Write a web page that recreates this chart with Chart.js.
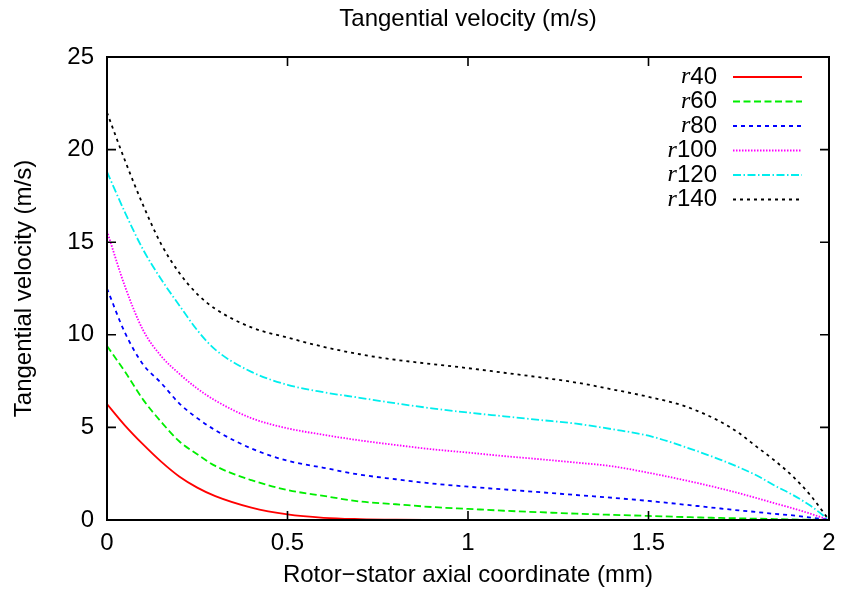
<!DOCTYPE html>
<html>
<head>
<meta charset="utf-8">
<title>Tangential velocity</title>
<script src="https://cdn.jsdelivr.net/npm/chart.js@4.4.1/dist/chart.umd.min.js"></script>
<style>
  html, body { margin: 0; padding: 0; background: #fff; }
  #wrap { width: 841px; height: 598px; }
</style>
</head>
<body>
<div id="wrap"><canvas id="c" width="841" height="598"></canvas></div>
<script>
// axial coordinate (mm)
const xs = [0, 0.05, 0.1, 0.15, 0.2, 0.25, 0.3, 0.4, 0.5, 0.6, 0.7, 0.8, 0.9, 1.0,
            1.1, 1.2, 1.3, 1.4, 1.5, 1.6, 1.7, 1.75, 1.8, 1.85, 1.9, 1.95, 2.0];

// tangential velocity (m/s) per radius
const r40  = [6.26, 5.1, 4.08, 3.15, 2.35, 1.75, 1.29, 0.67, 0.3, 0.12, 0.05, 0.02, 0.01, 0.005,
              0, 0, 0, 0, 0, 0, 0, 0, 0, 0, 0, 0, 0];
const r60  = [9.4, 8.0, 6.5, 5.3, 4.25, 3.55, 2.92, 2.15, 1.62, 1.3, 1.0, 0.85, 0.7, 0.6,
              0.5, 0.42, 0.34, 0.28, 0.22, 0.16, 0.11, 0.09, 0.07, 0.05, 0.03, 0.015, 0];
const r80  = [12.5, 10.1, 8.4, 7.4, 6.3, 5.5, 4.85, 3.86, 3.2, 2.82, 2.45, 2.2, 1.97, 1.8,
              1.65, 1.5, 1.35, 1.2, 1.03, 0.83, 0.62, 0.52, 0.43, 0.33, 0.25, 0.13, 0];
const r100 = [15.6, 12.6, 10.25, 8.85, 7.9, 7.1, 6.45, 5.5, 4.95, 4.6, 4.3, 4.05, 3.82, 3.64,
              3.45, 3.28, 3.1, 2.9, 2.55, 2.15, 1.7, 1.45, 1.18, 0.9, 0.63, 0.33, 0];
const r120 = [18.8, 16.6, 14.6, 13.0, 11.6, 10.25, 9.2, 8.0, 7.3, 6.9, 6.6, 6.3, 6.03, 5.8,
              5.6, 5.4, 5.2, 4.9, 4.55, 3.95, 3.25, 2.85, 2.4, 1.85, 1.35, 0.75, 0];
const r140 = [22.0, 19.4, 17.0, 14.9, 13.35, 12.2, 11.4, 10.4, 9.85, 9.35, 8.95, 8.65, 8.42, 8.2,
              7.95, 7.7, 7.42, 7.05, 6.65, 6.15, 5.3, 4.7, 3.95, 3.2, 2.35, 1.3, 0];

const seriesNames = ['40', '60', '80', '100', '120', '140'];
const seriesValues = [r40, r60, r80, r100, r120, r140];
const seriesColors = ['#ff0000', '#00ee00', '#0000ff', '#ff00ff', '#00eeee', '#000000'];
const seriesDashes = [[], [7, 3.5], [4, 4], [1.5, 1.5], [8, 2.5, 1.5, 2.5], [3, 4]];

const xTicks = [0, 0.5, 1, 1.5, 2];
const yTicks = [0, 5, 10, 15, 20, 25];

const SANS = '"Liberation Sans", Arial, Helvetica, sans-serif';
const FS = 24;

const datasets = seriesNames.map((n, i) => ({
  label: 'r' + n,
  data: xs.map((x, k) => ({ x: x, y: seriesValues[i][k] })),
  borderColor: seriesColors[i],
  backgroundColor: seriesColors[i],
  borderDash: seriesDashes[i],
  borderWidth: 1.8,
  pointRadius: 0,
  cubicInterpolationMode: 'monotone',
  fill: false,
}));

// frame with inward ticks on all four sides (gnuplot style)
const framePlugin = {
  id: 'frame',
  afterDraw(chart) {
    const { ctx, chartArea: a, scales } = chart;
    const L = 9;
    ctx.save();
    ctx.strokeStyle = '#000';
    ctx.lineWidth = 1.6;
    ctx.setLineDash([]);
    ctx.beginPath();
    xTicks.forEach(v => {
      const px = scales.x.getPixelForValue(v);
      ctx.moveTo(px, a.bottom); ctx.lineTo(px, a.bottom - L);
      ctx.moveTo(px, a.top); ctx.lineTo(px, a.top + L);
    });
    yTicks.forEach(v => {
      const py = scales.y.getPixelForValue(v);
      ctx.moveTo(a.left, py); ctx.lineTo(a.left + L, py);
      ctx.moveTo(a.right, py); ctx.lineTo(a.right - L, py);
    });
    ctx.stroke();
    ctx.lineWidth = 2;
    ctx.strokeRect(a.left, a.top, a.right - a.left, a.bottom - a.top);
    ctx.restore();
  }
};

// gnuplot-like key in the top right corner: label, then line sample
const keyPlugin = {
  id: 'key',
  afterDatasetsDraw(chart) {
    const { ctx, chartArea: a } = chart;
    const textRight = a.right - 112;
    const lineX0 = a.right - 96, lineX1 = a.right - 27;
    ctx.save();
    chart.data.datasets.forEach((ds, i) => {
      const y = a.top + 20 + i * 24.5;
      ctx.textBaseline = 'middle';
      ctx.fillStyle = '#000';
      ctx.font = FS + 'px ' + SANS;
      ctx.textAlign = 'right';
      const num = seriesNames[i];
      ctx.fillText(num, textRight, y);
      const w = ctx.measureText(num).width;
      ctx.font = 'italic ' + FS + 'px "Liberation Serif", "Times New Roman", serif';
      ctx.fillText('r', textRight - w, y);
      ctx.strokeStyle = ds.borderColor;
      ctx.lineWidth = 1.8;
      ctx.setLineDash(ds.borderDash);
      ctx.beginPath();
      ctx.moveTo(lineX0, y);
      ctx.lineTo(lineX1, y);
      ctx.stroke();
    });
    ctx.restore();
  }
};

// chart title, centred over the plot area
const titlePlugin = {
  id: 'topTitle',
  afterDraw(chart) {
    const { ctx, chartArea: a } = chart;
    ctx.save();
    ctx.font = FS + 'px ' + SANS;
    ctx.fillStyle = '#000';
    ctx.textAlign = 'center';
    ctx.textBaseline = 'middle';
    ctx.fillText('Tangential velocity (m/s)', (a.left + a.right) / 2, 19);
    ctx.restore();
  }
};

new Chart(document.getElementById('c'), {
  type: 'line',
  data: { datasets },
  options: {
    responsive: false,
    animation: false,
    devicePixelRatio: 1,
    layout: { padding: { top: 57, right: 12, left: 0, bottom: 0 } },
    plugins: {
      legend: { display: false },
      title: { display: false },
      tooltip: { enabled: false },
    },
    scales: {
      x: {
        type: 'linear',
        min: 0, max: 2,
        afterFit: s => { s.height = 78; s.paddingRight = 0; s.paddingLeft = 0; },
        afterBuildTicks: s => { s.ticks = xTicks.map(v => ({ value: v })); },
        grid: { display: false, drawTicks: false },
        border: { display: false },
        ticks: {
          color: '#000', padding: 9, font: { family: SANS, size: FS },
          callback: v => String(v)
        },
        title: {
          display: true, text: 'Rotor\u2212stator axial coordinate (mm)', color: '#000',
          font: { family: SANS, size: FS, lineHeight: 1.2 }, padding: { top: 0, bottom: 8 }
        }
      },
      y: {
        type: 'linear',
        min: 0, max: 25,
        afterFit: s => { s.width = 107; s.paddingTop = 0; s.paddingBottom = 0; },
        afterBuildTicks: s => { s.ticks = yTicks.map(v => ({ value: v })); },
        grid: { display: false, drawTicks: false },
        border: { display: false },
        ticks: {
          color: '#000', padding: 13, font: { family: SANS, size: FS },
          callback: v => String(v)
        },
        title: {
          display: true, text: 'Tangential velocity (m/s)', color: '#000',
          font: { family: SANS, size: FS, lineHeight: 1.2 }, padding: { top: 9.6, bottom: 0 }
        }
      }
    }
  },
  plugins: [framePlugin, keyPlugin, titlePlugin]
});
</script>
</body>
</html>
